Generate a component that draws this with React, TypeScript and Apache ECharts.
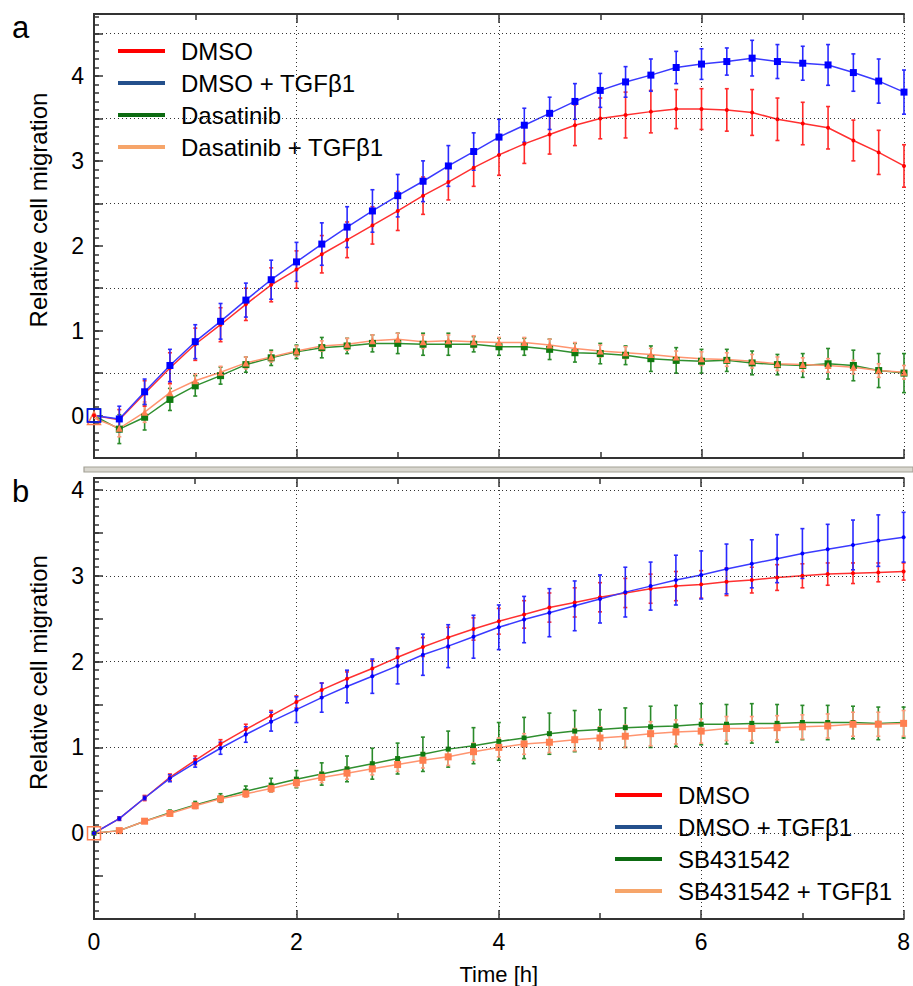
import React, { useEffect, useRef } from "react";
import * as echarts from "echarts";

const TIME = [0, 0.25, 0.5, 0.75, 1, 1.25, 1.5, 1.75, 2, 2.25, 2.5, 2.75, 3, 3.25, 3.5, 3.75, 4,
  4.25, 4.5, 4.75, 5, 5.25, 5.5, 5.75, 6, 6.25, 6.5, 6.75, 7, 7.25, 7.5, 7.75, 8];

// Panel a
const A_DMSO = [0, -0.05, 0.26, 0.56, 0.84, 1.07, 1.31, 1.54, 1.72, 1.9, 2.07, 2.24, 2.41, 2.59, 2.75, 2.92, 3.07,
  3.2, 3.31, 3.42, 3.5, 3.54, 3.58, 3.61, 3.61, 3.6, 3.57, 3.49, 3.44, 3.39, 3.24, 3.1, 2.94];
const A_DMSO_ERR = [0, 0.12, 0.15, 0.18, 0.19, 0.2, 0.19, 0.2, 0.22, 0.22, 0.21, 0.22, 0.23, 0.22, 0.21, 0.22, 0.24,
  0.23, 0.23, 0.24, 0.24, 0.27, 0.25, 0.23, 0.24, 0.25, 0.27, 0.25, 0.25, 0.25, 0.24, 0.26, 0.25];
const A_TGF = [0, -0.04, 0.28, 0.59, 0.87, 1.11, 1.36, 1.6, 1.81, 2.02, 2.22, 2.41, 2.59, 2.76, 2.94, 3.11, 3.28,
  3.42, 3.56, 3.7, 3.83, 3.93, 4.01, 4.1, 4.14, 4.17, 4.21, 4.17, 4.15, 4.13, 4.04, 3.94, 3.81];
const A_TGF_ERR = [0, 0.15, 0.15, 0.19, 0.2, 0.21, 0.2, 0.23, 0.23, 0.25, 0.24, 0.25, 0.25, 0.24, 0.24, 0.22, 0.21,
  0.2, 0.19, 0.21, 0.2, 0.18, 0.19, 0.19, 0.18, 0.16, 0.21, 0.2, 0.2, 0.24, 0.22, 0.26, 0.26];
const A_DAS = [0, -0.16, -0.02, 0.19, 0.35, 0.47, 0.6, 0.68, 0.75, 0.8, 0.82, 0.85, 0.85, 0.84, 0.84, 0.84, 0.81,
  0.81, 0.78, 0.74, 0.73, 0.71, 0.67, 0.65, 0.64, 0.65, 0.62, 0.6, 0.59, 0.61, 0.59, 0.53, 0.5];
const A_DAS_ERR = [0, 0.17, 0.15, 0.13, 0.12, 0.1, 0.09, 0.09, 0.08, 0.12, 0.09, 0.1, 0.12, 0.13, 0.13, 0.09, 0.1,
  0.1, 0.12, 0.11, 0.12, 0.11, 0.15, 0.15, 0.14, 0.13, 0.14, 0.12, 0.14, 0.18, 0.18, 0.2, 0.23];
const A_DAST = [-0.03, -0.15, 0.04, 0.27, 0.41, 0.51, 0.62, 0.69, 0.76, 0.82, 0.84, 0.88, 0.9, 0.87, 0.88, 0.87, 0.86,
  0.86, 0.83, 0.79, 0.76, 0.74, 0.72, 0.69, 0.67, 0.66, 0.64, 0.61, 0.6, 0.59, 0.57, 0.53, 0.51];
const A_DAST_ERR = [0, 0.1, 0.12, 0.1, 0.08, 0.07, 0.07, 0.06, 0.06, 0.06, 0.07, 0.07, 0.07, 0.08, 0.07, 0.07, 0.06,
  0.06, 0.07, 0.07, 0.07, 0.07, 0.07, 0.07, 0.08, 0.08, 0.08, 0.08, 0.08, 0.08, 0.08, 0.08, 0.08];

// Panel b
const B_DMSO = [0, 0.17, 0.41, 0.65, 0.85, 1.04, 1.21, 1.37, 1.53, 1.67, 1.8, 1.92, 2.05, 2.17, 2.28, 2.38, 2.47,
  2.55, 2.63, 2.69, 2.75, 2.8, 2.85, 2.88, 2.9, 2.93, 2.95, 2.98, 3.0, 3.02, 3.03, 3.04, 3.05];
const B_DMSO_ERR = [0, 0.02, 0.03, 0.04, 0.05, 0.05, 0.06, 0.06, 0.07, 0.08, 0.08, 0.09, 0.1, 0.11, 0.12, 0.13, 0.15,
  0.16, 0.17, 0.17, 0.17, 0.17, 0.17, 0.17, 0.16, 0.16, 0.15, 0.15, 0.14, 0.13, 0.12, 0.11, 0.1];
const B_TGF = [0, 0.17, 0.41, 0.64, 0.82, 0.99, 1.15, 1.3, 1.44, 1.58, 1.71, 1.83, 1.95, 2.08, 2.18, 2.29, 2.4,
  2.49, 2.57, 2.65, 2.73, 2.81, 2.88, 2.95, 3.01, 3.08, 3.14, 3.2, 3.26, 3.31, 3.36, 3.41, 3.45];
const B_TGF_ERR = [0, 0.02, 0.02, 0.04, 0.05, 0.07, 0.09, 0.11, 0.15, 0.17, 0.19, 0.2, 0.21, 0.24, 0.25, 0.25, 0.26,
  0.27, 0.28, 0.29, 0.28, 0.29, 0.28, 0.29, 0.28, 0.29, 0.28, 0.28, 0.29, 0.29, 0.29, 0.3, 0.29];
const B_SB = [0, 0.03, 0.14, 0.24, 0.33, 0.41, 0.49, 0.56, 0.63, 0.69, 0.75, 0.81, 0.87, 0.92, 0.98, 1.02, 1.07,
  1.11, 1.16, 1.19, 1.21, 1.23, 1.24, 1.25, 1.27, 1.27, 1.28, 1.28, 1.29, 1.29, 1.29, 1.28, 1.29];
const B_SB_ERR = [0, 0.01, 0.02, 0.03, 0.04, 0.05, 0.06, 0.08, 0.1, 0.13, 0.15, 0.18, 0.18, 0.2, 0.21, 0.21, 0.22,
  0.24, 0.24, 0.24, 0.23, 0.23, 0.24, 0.24, 0.24, 0.23, 0.23, 0.22, 0.2, 0.2, 0.19, 0.19, 0.18];
const B_SBT = [0, 0.03, 0.14, 0.23, 0.32, 0.4, 0.46, 0.52, 0.59, 0.65, 0.7, 0.75, 0.8, 0.85, 0.89, 0.95, 1.0,
  1.04, 1.06, 1.09, 1.11, 1.13, 1.16, 1.18, 1.19, 1.22, 1.22, 1.23, 1.24, 1.25, 1.27, 1.27, 1.28];
const B_SBT_ERR = [0, 0.01, 0.02, 0.02, 0.03, 0.03, 0.04, 0.04, 0.05, 0.06, 0.07, 0.07, 0.08, 0.09, 0.1, 0.1, 0.11,
  0.12, 0.12, 0.13, 0.13, 0.13, 0.14, 0.14, 0.14, 0.14, 0.14, 0.14, 0.14, 0.14, 0.14, 0.14, 0.15];

const LEGEND_A = ["DMSO", "DMSO + TGFβ1", "Dasatinib", "Dasatinib + TGFβ1"];
const LEGEND_B = ["DMSO", "DMSO + TGFβ1", "SB431542", "SB431542 + TGFβ1"];
const LEGEND_COLORS = ["#ff0000", "#24508c", "#0d6b12", "#f6a56a"];

const A_GRIDLINES = [0.5, 1.5, 2.5, 3.5, 4.5];
const B_GRIDLINES = [0, 1, 2, 3, 4];

const FONT = "'Liberation Sans', Arial, Helvetica, sans-serif";

const LINE_COLORS = { red: "#ff3030", blue: "#3a3aff", green: "#2f8f2f", orange: "#ff9570" };
const MARK_COLORS = { red: "#ff0000", blue: "#0000ff", green: "#0f7a0f", orange: "#ff7f50" };
const ERR_COLORS = { red: "#ff2a2a", blue: "#2a2aff", green: "#2a8a2a", orange: "#ff9a7a" };

function lineSeries(name: string, xi: number, yi: number, vals: number[], key: string,
  symbol: string, size: number, firstSymbol: string | null) {
  const mc = (MARK_COLORS as any)[key];
  return {
    type: "line",
    name,
    xAxisIndex: xi,
    yAxisIndex: yi,
    data: TIME.map((t, i) =>
      i === 0 && firstSymbol
        ? {
            value: [t, vals[i]],
            symbol: firstSymbol,
            symbolSize: 13,
            itemStyle: { color: "rgba(255,255,255,0)", borderColor: mc, borderWidth: 1.5 },
          }
        : [t, vals[i]]
    ),
    symbol,
    symbolSize: size,
    showSymbol: true,
    lineStyle: { color: (LINE_COLORS as any)[key], width: 1.5 },
    itemStyle: { color: mc },
    z: 4,
    silent: true,
  };
}

function errSeries(name: string, xi: number, yi: number, vals: number[], errs: number[], key: string) {
  const color = (ERR_COLORS as any)[key];
  return {
    type: "custom",
    name: name + " (SD)",
    xAxisIndex: xi,
    yAxisIndex: yi,
    data: TIME.map((t, i) => [t, vals[i], errs[i]]),
    encode: { x: 0, y: 1 },
    silent: true,
    z: 3,
    renderItem: (params: any, api: any) => {
      const x = api.value(0);
      const y = api.value(1);
      const e = api.value(2);
      if (!e) return null;
      const top = api.coord([x, y + e]);
      const bot = api.coord([x, y - e]);
      const w = 2;
      const style = { stroke: color, lineWidth: 1.6 };
      return {
        type: "group",
        children: [
          { type: "line", shape: { x1: top[0], y1: top[1], x2: bot[0], y2: bot[1] }, style },
          { type: "line", shape: { x1: top[0] - w, y1: top[1], x2: top[0] + w, y2: top[1] }, style },
          { type: "line", shape: { x1: bot[0] - w, y1: bot[1], x2: bot[0] + w, y2: bot[1] }, style },
        ],
      };
    },
  };
}

function gridLineSeries(xi: number, yi: number, values: number[]) {
  return {
    type: "line",
    name: "grid",
    xAxisIndex: xi,
    yAxisIndex: yi,
    data: [],
    silent: true,
    z: 1,
    markLine: {
      silent: true,
      symbol: ["none", "none"],
      label: { show: false },
      lineStyle: { type: [1, 3], color: "#333", width: 1 },
      data: values.map((v) => ({ yAxis: v })),
    },
  };
}

function xAxisDef(gridIndex: number, position: string, labels: boolean, name?: string) {
  return {
    type: "value",
    gridIndex,
    position,
    min: 0,
    max: 8,
    interval: 2,
    name: name || "",
    nameLocation: "middle",
    nameGap: 44,
    nameTextStyle: { fontSize: 22, fontFamily: FONT, color: "#000" },
    axisLine: { show: true, onZero: false, lineStyle: { color: "#333", width: 2 } },
    axisTick: { show: true, inside: true, length: 9, lineStyle: { color: "#333", width: 1.5 } },
    minorTick: { show: true, splitNumber: 2, length: 6, lineStyle: { color: "#333", width: 1.5 } },
    axisLabel: { show: labels, fontSize: 23, fontFamily: FONT, color: "#000", margin: 11 },
    splitLine: { show: position === "bottom", lineStyle: { type: [1, 3], color: "#333", width: 1 } },
  };
}

function yAxisMain(gridIndex: number, min: number, max: number) {
  return {
    type: "value",
    gridIndex,
    position: "left",
    min,
    max,
    interval: 0.5,
    name: "Relative cell migration",
    nameLocation: "middle",
    nameGap: 44,
    nameTextStyle: { fontSize: 24, fontFamily: FONT, color: "#000", padding: [0, 0, 0, 52] },
    axisLine: { show: true, onZero: false, lineStyle: { color: "#333", width: 2 } },
    axisTick: { show: true, inside: true, length: 9, lineStyle: { color: "#333", width: 1.5 } },
    axisLabel: {
      show: true,
      fontSize: 23,
      fontFamily: FONT,
      color: "#000",
      margin: 10,
      formatter: (v: number) =>
        v >= 0 && Math.abs(v - Math.round(v)) < 1e-6 ? String(Math.round(v)) : "",
    },
    splitLine: { show: false },
  };
}

function yAxisMinor(gridIndex: number, min: number, max: number) {
  return {
    type: "value",
    gridIndex,
    position: "left",
    offset: 0,
    min,
    max,
    interval: 0.1,
    axisLine: { show: true, onZero: false, lineStyle: { color: "#333", width: 2 } },
    axisTick: { show: true, inside: true, length: 5, lineStyle: { color: "#333", width: 1.5 } },
    axisLabel: { show: false },
    splitLine: { show: false },
  };
}

export default function App() {
  const ref = useRef<HTMLDivElement>(null);
  useEffect(() => {
    if (!ref.current) return;
    const chart = echarts.init(ref.current, undefined, { renderer: "svg" });
    const legendCommon = {
      orient: "vertical",
      icon: "rect",
      itemWidth: 47,
      itemHeight: 4,
      itemGap: 8,
      selectedMode: false,
      textStyle: { fontSize: 24, fontFamily: FONT, color: "#000", padding: [0, 0, 0, 11] },
    };
    const option: any = {
      animation: false,
      backgroundColor: "#fff",
      grid: [
        { left: 94, right: 9, top: 14, height: 444 },
        { left: 94, right: 9, top: 478, height: 441 },
      ],
      xAxis: [
        xAxisDef(0, "bottom", false),
        xAxisDef(0, "top", false),
        xAxisDef(1, "bottom", true, "Time [h]"),
        xAxisDef(1, "top", false),
      ],
      yAxis: [
        yAxisMain(0, -0.5, 4.73),
        yAxisMinor(0, -0.5, 4.73),
        yAxisMain(1, -1, 4.14),
        yAxisMinor(1, -1, 4.14),
      ],
      legend: [
        {
          ...legendCommon,
          left: 113,
          top: 34,
          data: LEGEND_A.map((n, i) => ({ name: n, itemStyle: { color: LEGEND_COLORS[i], borderWidth: 0 } })),
        },
        {
          ...legendCommon,
          left: 610,
          top: 778,
          data: LEGEND_B.map((n, i) => ({ name: n, itemStyle: { color: LEGEND_COLORS[i], borderWidth: 0 } })),
        },
      ],
      graphic: [
        { type: "text", left: 12, top: 12, style: { text: "a", fontSize: 31, fontFamily: FONT, fill: "#000" } },
        { type: "text", left: 12, top: 476, style: { text: "b", fontSize: 31, fontFamily: FONT, fill: "#000" } },
        {
          type: "rect",
          shape: { x: 84, y: 467, width: 829, height: 5 },
          style: { fill: "#d9d7cf", stroke: "#a3a196", lineWidth: 1.2 },
        },
      ],
      series: [
        gridLineSeries(0, 0, A_GRIDLINES),
        gridLineSeries(2, 2, B_GRIDLINES),
        errSeries("Dasatinib", 0, 0, A_DAS, A_DAS_ERR, "green"),
        errSeries("Dasatinib + TGFβ1", 0, 0, A_DAST, A_DAST_ERR, "orange"),
        errSeries("DMSO", 0, 0, A_DMSO, A_DMSO_ERR, "red"),
        errSeries("DMSO + TGFβ1", 0, 0, A_TGF, A_TGF_ERR, "blue"),
        lineSeries("Dasatinib", 0, 0, A_DAS, "green", "rect", 7, "rect"),
        lineSeries("Dasatinib + TGFβ1", 0, 0, A_DAST, "orange", "triangle", 7, "triangle"),
        lineSeries("DMSO", 0, 0, A_DMSO, "red", "circle", 4, null),
        lineSeries("DMSO + TGFβ1", 0, 0, A_TGF, "blue", "rect", 7, "rect"),

        errSeries("SB431542", 2, 2, B_SB, B_SB_ERR, "green"),
        errSeries("SB431542 + TGFβ1", 2, 2, B_SBT, B_SBT_ERR, "orange"),
        errSeries("DMSO", 2, 2, B_DMSO, B_DMSO_ERR, "red"),
        errSeries("DMSO + TGFβ1", 2, 2, B_TGF, B_TGF_ERR, "blue"),
        lineSeries("SB431542", 2, 2, B_SB, "green", "rect", 5, null),
        lineSeries("SB431542 + TGFβ1", 2, 2, B_SBT, "orange", "rect", 7, "rect"),
        lineSeries("DMSO", 2, 2, B_DMSO, "red", "circle", 4, null),
        lineSeries("DMSO + TGFβ1", 2, 2, B_TGF, "blue", "circle", 4, null),
      ],
    };
    chart.setOption(option);
    return () => chart.dispose();
  }, []);
  return (
    <div
      ref={ref}
      style={{ position: "absolute", left: 0, top: 0, width: 913, height: 986, background: "#fff" }}
    />
  );
}
